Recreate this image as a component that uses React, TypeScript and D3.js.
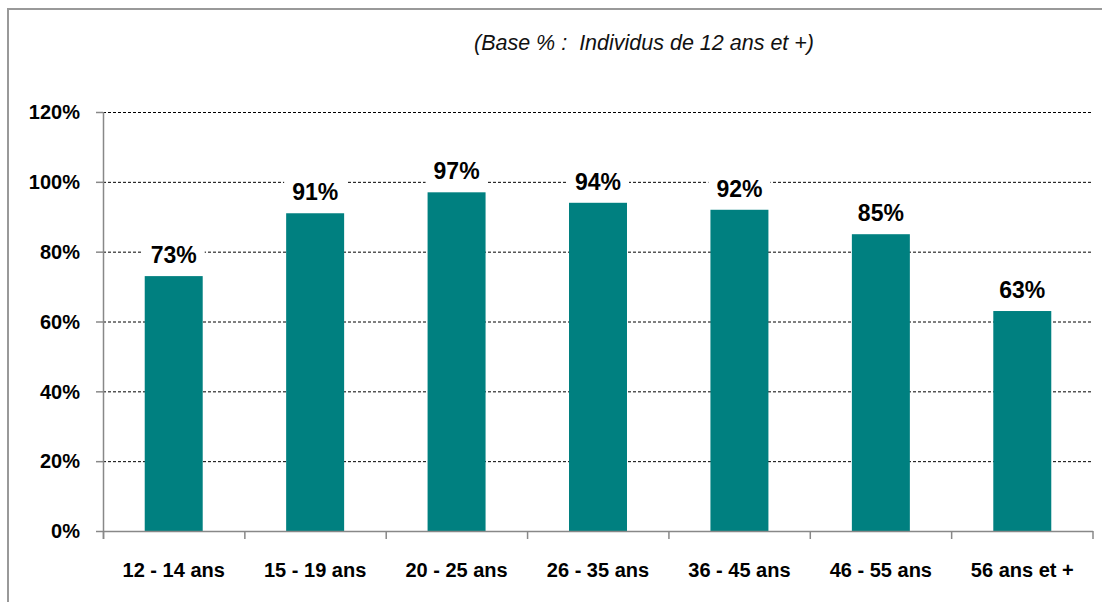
import { useEffect, useRef } from 'react';
import * as d3 from 'd3';

const categories = ['12 - 14 ans', '15 - 19 ans', '20 - 25 ans', '26 - 35 ans', '36 - 45 ans', '46 - 55 ans', '56 ans et +'];
const values = [0.73, 0.91, 0.97, 0.94, 0.92, 0.85, 0.63];
const yTicks = [0, 0.2, 0.4, 0.6, 0.8, 1.0, 1.2];
const subtitle = '(Base % :  Individus de 12 ans et +)';

const W = 1102;
const H = 602;
const teal = '#008080';

export default function App() {
  const ref = useRef<SVGSVGElement>(null);

  useEffect(() => {
    const svg = d3.select(ref.current);
    svg.selectAll('*').remove();

    const left = 103, right = 1093, top = 112, bottom = 531;

    const x = d3.scaleBand().domain(categories).range([left, right]).paddingInner(0.59).paddingOuter(0.295);
    const y = d3.scaleLinear().domain([0, 1.2]).range([bottom, top]);
    const step = x.step();

    // outer frame
    svg.append('rect').attr('x', 8).attr('y', 9).attr('width', W + 20).attr('height', H + 20)
      .style('fill', 'white').style('stroke', '#999').style('stroke-width', 2);

    svg.append('text').attr('x', 644).attr('y', 50).attr('text-anchor', 'middle')
      .style('font-family', "'Liberation Sans', Arial, sans-serif").style('font-style', 'italic')
      .style('font-size', '21.5px').style('fill', '#111').style('white-space', 'pre')
      .text(subtitle);

    // gridlines
    svg.selectAll('.grid').data(yTicks.filter(d => d > 0)).enter().append('line')
      .attr('x1', left).attr('x2', right).attr('y1', d => y(d) + 0.5).attr('y2', d => y(d) + 0.5)
      .style('stroke', '#000').style('stroke-width', 1).style('stroke-dasharray', '3,2');

    // bars
    svg.selectAll('.bar').data(values).enter().append('rect')
      .attr('x', (d, i) => x(categories[i])!).attr('y', d => y(d))
      .attr('width', x.bandwidth()).attr('height', d => bottom - y(d))
      .style('fill', teal);

    // axes
    svg.append('line').attr('x1', left + 0.5).attr('x2', left + 0.5).attr('y1', top).attr('y2', bottom + 8)
      .style('stroke', '#888').style('stroke-width', 1.5);
    svg.append('line').attr('x1', left).attr('x2', right).attr('y1', bottom + 0.5).attr('y2', bottom + 0.5)
      .style('stroke', '#888').style('stroke-width', 1.5);

    svg.selectAll('.ytick').data(yTicks).enter().append('line')
      .attr('x1', left - 7).attr('x2', left).attr('y1', d => y(d) + 0.5).attr('y2', d => y(d) + 0.5)
      .style('stroke', '#888').style('stroke-width', 1.5);

    svg.selectAll('.ylab').data(yTicks).enter().append('text')
      .attr('x', 80).attr('y', d => y(d)).attr('dy', '0.36em').attr('text-anchor', 'end')
      .style('font-family', "'Liberation Sans', Arial, sans-serif").style('font-weight', 'bold')
      .style('font-size', '20px').style('fill', '#000')
      .text(d => d3.format('.0%')(d));

    svg.selectAll('.xtick').data(d3.range(categories.length + 1)).enter().append('line')
      .attr('x1', i => left + i * step + 0.5 * (1 - i / categories.length)).attr('x2', i => left + i * step + 0.5 * (1 - i / categories.length))
      .attr('y1', bottom).attr('y2', bottom + 8)
      .style('stroke', '#888').style('stroke-width', 1.5);

    svg.selectAll('.xlab').data(categories).enter().append('text')
      .attr('x', d => x(d)! + x.bandwidth() / 2).attr('y', 577).attr('text-anchor', 'middle')
      .style('font-family', "'Liberation Sans', Arial, sans-serif").style('font-weight', 'bold')
      .style('font-size', '20px').style('fill', '#000')
      .text(d => d);

    // value labels with white backdrop
    const lab = svg.selectAll('.val').data(values).enter().append('g')
      .attr('transform', (d, i) => `translate(${x(categories[i])! + x.bandwidth() / 2},${y(d) - 13})`);
    lab.append('rect').attr('x', -31).attr('y', -20).attr('width', 62).attr('height', 25).style('fill', 'white');
    lab.append('text').attr('text-anchor', 'middle')
      .style('font-family', "'Liberation Sans', Arial, sans-serif").style('font-weight', 'bold')
      .style('font-size', '23px').style('fill', '#000')
      .text(d => d3.format('.0%')(d));
  }, []);

  return (
    <div style={{ position: 'absolute', left: 0, top: 0, width: W, height: H, overflow: 'hidden', background: 'white' }}>
      <svg ref={ref} width={W} height={H} style={{ display: 'block' }} />
    </div>
  );
}
